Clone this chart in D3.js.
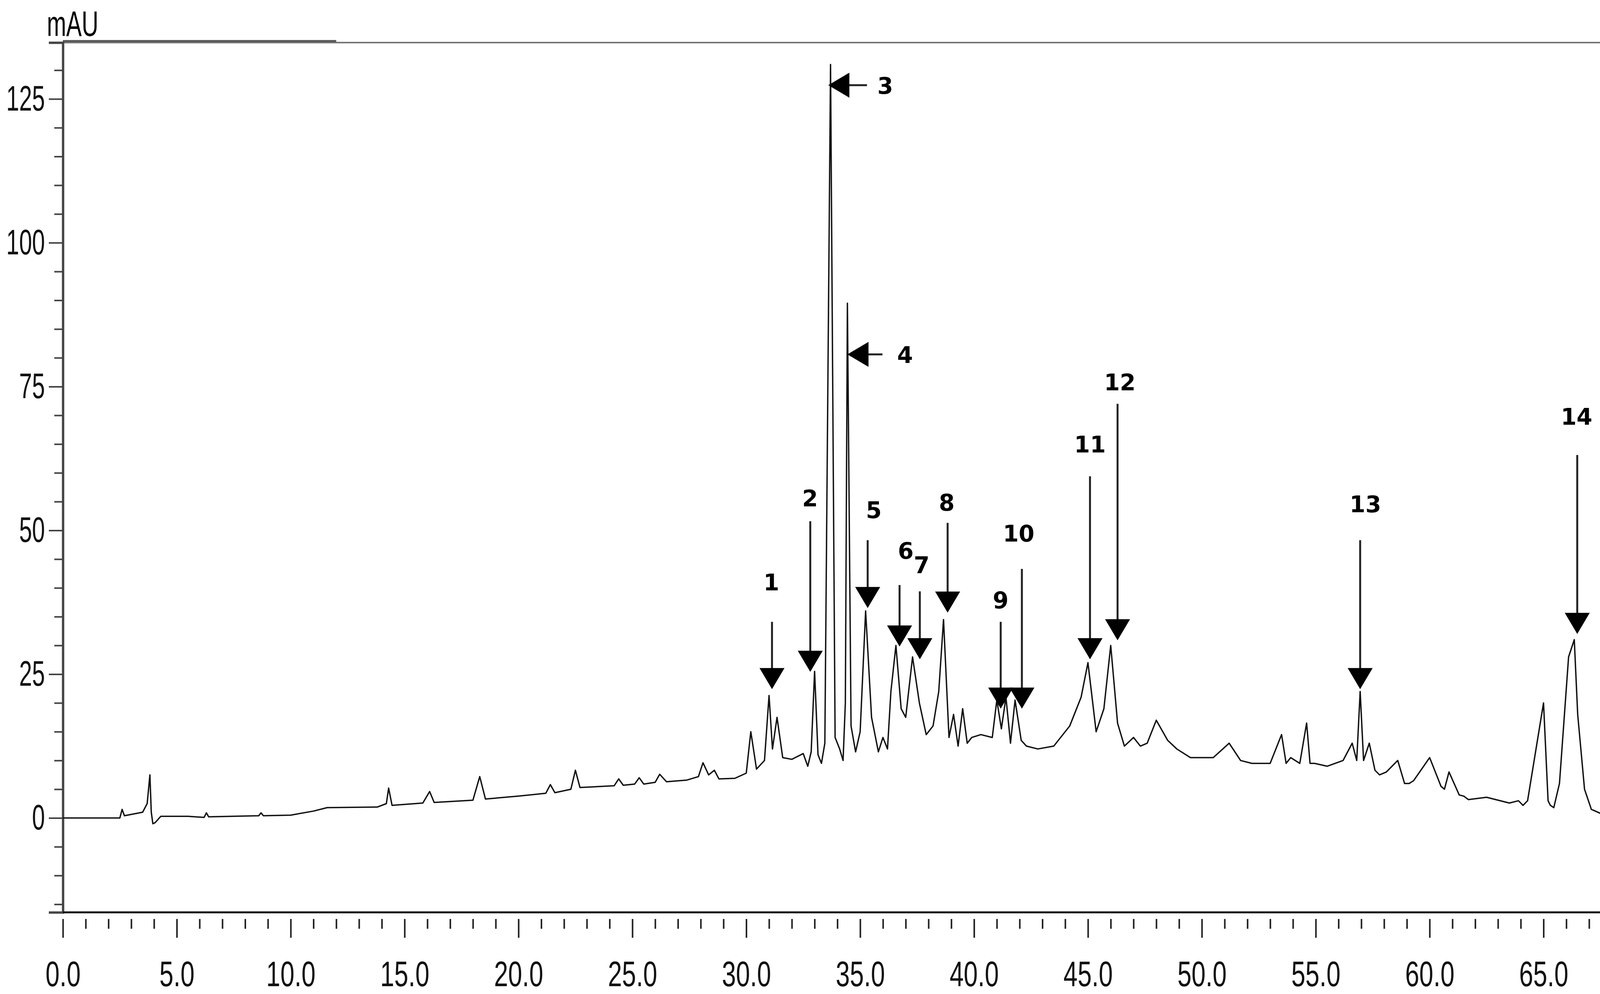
<!DOCTYPE html>
<html>
<head>
<meta charset="utf-8">
<script src="https://cdn.jsdelivr.net/npm/d3@7"></script>
<style>
  body { margin: 0; background: #fff; overflow: hidden; }
  .tick text, .lbl { font-family: "Liberation Sans", Arial, sans-serif; }
  .peak { font-family: "DejaVu Sans", sans-serif; font-weight: bold; }
</style>
</head>
<body>
<svg id="chart" width="4268" height="2544"></svg>
<script>
// retention time (min) and absorbance (mAU)
var times = [0, 2.5, 2.6, 2.7, 3.5, 3.7, 3.82, 3.88, 3.95, 4.05, 4.3, 5.5, 6.2, 6.3, 6.4, 8.6, 8.7, 8.8, 10, 11, 11.6,
  13.8, 14.2, 14.3, 14.45, 15.8, 16.1, 16.3, 18.0, 18.3, 18.55, 20, 21.2, 21.4, 21.6, 22.3, 22.5, 22.7, 24.2, 24.4, 24.6,
  25.1, 25.3, 25.5, 26.0, 26.2, 26.5, 27.4, 27.9, 28.1, 28.35, 28.6, 28.8, 29.5, 30.0, 30.2, 30.45, 30.8, 31.0, 31.15,
  31.35, 31.6, 32.0, 32.5, 32.7, 32.85, 33.0, 33.15, 33.3, 33.45, 33.55, 33.7, 33.9, 34.1, 34.25, 34.35, 34.44, 34.6,
  34.8, 35.0, 35.24, 35.5, 35.8, 36.0, 36.2, 36.35, 36.57, 36.8, 37.0, 37.3, 37.6, 37.9, 38.2, 38.45, 38.66, 38.9, 39.1,
  39.3, 39.5, 39.7, 39.9, 40.3, 40.8, 41.0, 41.2, 41.4, 41.6, 41.8, 42.07, 42.3, 42.8, 43.5, 44.2, 44.7, 45.0, 45.36,
  45.7, 46.0, 46.3, 46.6, 47.0, 47.3, 47.6, 48.0, 48.5, 48.9, 49.5, 50.5, 51.2, 51.7, 52.2, 53.0, 53.5, 53.7, 53.9,
  54.3, 54.6, 54.75, 54.95, 55.5, 56.2, 56.6, 56.8, 56.95, 57.1, 57.35, 57.6, 57.8, 58.1, 58.6, 58.9, 59.1, 59.3, 60.0,
  60.5, 60.65, 60.85, 61.3, 61.5, 61.7, 62.5, 63.5, 63.9, 64.1, 64.3, 65.0, 65.2, 65.3, 65.45, 65.7, 66.1, 66.35, 66.5,
  66.8, 67.1, 67.5, 68.0, 68.2, 68.3, 68.45, 69.0, 70];
var mAU = [0, 0, 1.5, 0.4, 1, 2.5, 7.5, 1, -1, -0.8, 0.3, 0.3, 0.1, 0.9, 0.2, 0.4, 0.9, 0.4, 0.5, 1.2, 1.8,
  1.9, 2.5, 5.2, 2.2, 2.6, 4.6, 2.7, 3.1, 7.2, 3.3, 3.8, 4.3, 5.8, 4.4, 5.0, 8.3, 5.3, 5.6, 6.8, 5.7,
  5.9, 7.0, 5.9, 6.2, 7.6, 6.3, 6.6, 7.2, 9.6, 7.5, 8.3, 6.8, 6.9, 7.8, 15, 8.5, 10, 21.3, 12, 17.5, 10.5, 10.2,
  11.2, 9.0, 11.5, 25.5, 11, 9.5, 13, 60, 131, 14, 12, 10, 20, 89.5, 16, 11.5, 15, 36, 17.5, 11.5, 14, 12, 22, 30,
  19, 17.5, 28, 20, 14.5, 16, 22, 34.5, 14, 18, 12.5, 19, 13, 14, 14.5, 14, 20.5, 15.5, 21, 13, 20.5, 13.5, 12.5,
  12, 12.5, 16, 21, 27, 15, 19, 30, 16.5, 12.5, 14, 12.5, 13, 17, 13.5, 12, 10.5, 10.5, 13, 10, 9.5, 9.5, 14.5,
  9.5, 10.5, 9.5, 16.5, 9.5, 9.5, 9.0, 10, 13, 10, 22, 10, 13, 8.3, 7.5, 8, 10, 6, 6, 6.5, 10.5, 5.5, 5, 8, 4,
  3.8, 3.2, 3.6, 2.6, 3, 2.2, 3, 20, 3, 2.2, 1.8, 6, 28, 31, 18, 5, 1.5, 0.8, 1.2, 5.6, 0.8, 0.5, -0.3];

// peak markers: number, arrow x (min), tip / tail (mAU), label x (min), label y (mAU)
var peakNo = ["1", "2", "5", "6", "7", "8", "9", "10", "11", "12", "13", "14"];
var peakT = [31.13, 32.81, 35.33, 36.73, 37.62, 38.84, 41.17, 42.1, 45.09, 46.3, 56.95, 66.48];
var peakTip = [22.4, 25.4, 36.5, 29.8, 27.6, 35.7, 19.0, 19.0, 27.6, 30.9, 22.4, 32.0];
var peakTail = [34.1, 51.6, 48.3, 40.5, 39.4, 51.3, 34.1, 43.3, 59.4, 72.0, 48.3, 63.1];
var labelT = [31.1, 32.8, 35.6, 37.0, 37.7, 38.8, 41.17, 41.96, 45.09, 46.4, 57.18, 66.45];
var labelV = [40.9, 55.5, 53.5, 46.4, 43.9, 54.8, 37.8, 49.4, 64.9, 75.7, 54.5, 69.7];
// horizontal markers (peaks 3 and 4): number, level (mAU), tip / tail (min), label x (min)
var sideNo = ["3", "4"];
var sideV = [127.4, 80.6];
var sideTip = [33.6, 34.44];
var sideTail = [35.3, 35.98];
var sideLabel = [36.1, 36.97];

var xTicks = d3.range(0, 71, 5);
var yTicks = [0, 25, 50, 75, 100, 125];

var svg = d3.select("#chart");
var pLeft = 161, pRight = 4243, pTop = 109, pBottom = 2335;
var narrow = 0.66;

var x = d3.scaleLinear().domain([0, 70]).range([pLeft, pRight]);
var y = d3.scaleLinear().domain([-16.4, 134.8]).range([pBottom, pTop]);

// frame
svg.append("line").attr("x1", pLeft).attr("x2", pRight).attr("y1", pTop).attr("y2", pTop)
  .attr("stroke", "#777").attr("stroke-width", 4);
svg.append("line").attr("x1", pLeft).attr("x2", x(12)).attr("y1", pTop - 4).attr("y2", pTop - 4)
  .attr("stroke", "#555").attr("stroke-width", 5);
svg.append("line").attr("x1", pRight).attr("x2", pRight).attr("y1", pTop).attr("y2", pBottom)
  .attr("stroke", "#222").attr("stroke-width", 4);

// y axis
var yAxis = svg.append("g").attr("transform", "translate(" + pLeft + ",0)")
  .call(d3.axisLeft(y).tickValues(yTicks).tickSize(36).tickPadding(10).tickFormat(d3.format("d")));
yAxis.select(".domain").attr("stroke", "#444").attr("stroke-width", 6);
yAxis.selectAll(".tick line").attr("stroke", "#444").attr("stroke-width", 4);
yAxis.selectAll(".tick text").attr("font-size", 90).attr("fill", "#111")
  .attr("x", -46 / narrow).attr("transform", "scale(" + narrow + ",1)");
svg.append("g").attr("transform", "translate(" + pLeft + ",0)")
  .call(d3.axisLeft(y).tickValues(d3.range(-15, 135, 5).filter(function (d) { return d % 25 != 0; }))
    .tickSize(22).tickFormat(""))
  .call(function (g) { g.select(".domain").remove(); })
  .selectAll("line").attr("stroke", "#444").attr("stroke-width", 4);

// x axis
svg.append("line").attr("x1", pLeft).attr("x2", pRight).attr("y1", pBottom).attr("y2", pBottom)
  .attr("stroke", "#111").attr("stroke-width", 5);
var xg = svg.append("g").attr("transform", "translate(0," + (pBottom + 17) + ")");
xg.call(d3.axisBottom(x).tickValues(xTicks).tickSize(48).tickPadding(60)
  .tickFormat(function (d) { return d < 70 ? d3.format(".1f")(d) : ""; }));
xg.select(".domain").remove();
xg.selectAll(".tick line").attr("stroke", "#222").attr("stroke-width", 4);
xg.selectAll(".tick text").attr("font-size", 90).attr("fill", "#111").attr("transform", "scale(0.72,1)");
svg.append("g").attr("transform", "translate(0," + (pBottom + 17) + ")")
  .call(d3.axisBottom(x).tickValues(d3.range(0, 71, 1).filter(function (d) { return d % 5 != 0; }))
    .tickSize(25).tickFormat(""))
  .call(function (g) { g.select(".domain").remove(); })
  .selectAll("line").attr("stroke", "#222").attr("stroke-width", 4);

svg.append("text").attr("class", "lbl").attr("transform", "translate(120,92) scale(" + narrow + ",1)")
  .attr("font-size", 90).text("mAU");
svg.append("text").attr("class", "lbl").attr("transform", "translate(4205,2470) scale(" + narrow + ",1)")
  .attr("text-anchor", "end").attr("font-size", 84).text("min");

// trace
var pts = times.map(function (t, i) { return [t, mAU[i]]; });
svg.append("path").datum(pts)
  .attr("fill", "none").attr("stroke", "#111").attr("stroke-width", 3.5).attr("stroke-linejoin", "round")
  .attr("d", d3.line().x(function (d) { return x(d[0]); }).y(function (d) { return y(d[1]); }));

// peak arrows
var hw = 32, hh = 54;
peakNo.forEach(function (n, i) {
  var px = x(peakT[i]), tip = y(peakTip[i]);
  svg.append("line").attr("x1", px).attr("x2", px).attr("y1", y(peakTail[i])).attr("y2", tip - hh + 2)
    .attr("stroke", "#222").attr("stroke-width", 5);
  svg.append("path").attr("fill", "#000")
    .attr("d", "M" + (px - hw) + "," + (tip - hh) + "L" + (px + hw) + "," + (tip - hh) + "L" + px + "," + tip + "Z");
  svg.append("text").attr("class", "peak").attr("x", x(labelT[i])).attr("y", y(labelV[i]) + 20)
    .attr("text-anchor", "middle").attr("font-size", 58).text(n);
});
sideNo.forEach(function (n, i) {
  var py = y(sideV[i]), tip = x(sideTip[i]);
  svg.append("line").attr("x1", tip + hh - 2).attr("x2", x(sideTail[i])).attr("y1", py).attr("y2", py)
    .attr("stroke", "#222").attr("stroke-width", 5);
  svg.append("path").attr("fill", "#000")
    .attr("d", "M" + (tip + hh) + "," + (py - hw) + "L" + (tip + hh) + "," + (py + hw) + "L" + tip + "," + py + "Z");
  svg.append("text").attr("class", "peak").attr("x", x(sideLabel[i])).attr("y", py + 22)
    .attr("text-anchor", "middle").attr("font-size", 58).text(n);
});
</script>
</body>
</html>
